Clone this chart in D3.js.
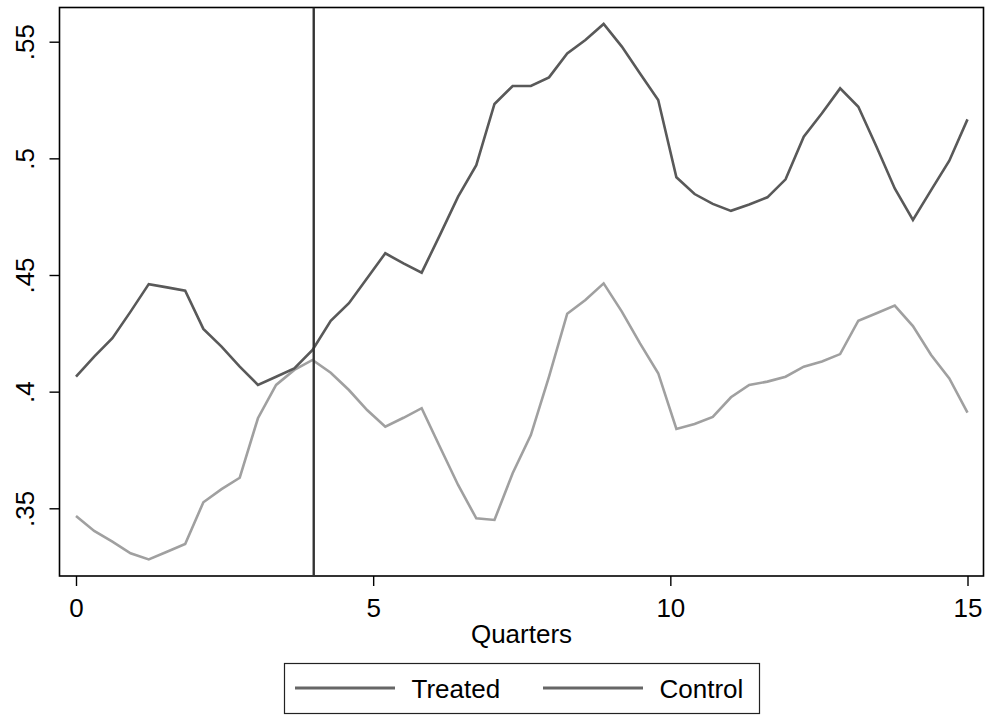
<!DOCTYPE html>
<html>
<head>
<meta charset="utf-8">
<script src="https://cdn.jsdelivr.net/npm/d3@7"></script>
<style>
  html, body { margin: 0; padding: 0; background: #fff; }
  svg { display: block; }
  text { font-family: "Liberation Sans", Arial, sans-serif; fill: #000; }
</style>
</head>
<body>
<svg id="chart" width="987" height="715"></svg>
<script>
// ---- data ----
const quarters = [0, 0.306, 0.612, 0.918, 1.224, 1.531, 1.837, 2.143, 2.449, 2.755,
  3.061, 3.367, 3.673, 3.980, 4.286, 4.592, 4.898, 5.204, 5.510, 5.816,
  6.122, 6.429, 6.735, 7.041, 7.347, 7.653, 7.959, 8.265, 8.571, 8.878,
  9.184, 9.490, 9.796, 10.102, 10.408, 10.714, 11.020, 11.327, 11.633, 11.939,
  12.245, 12.551, 12.857, 13.163, 13.469, 13.776, 14.082, 14.388, 14.694, 15];
const treated = [0.4064, 0.4150, 0.4229, 0.4343, 0.4461, 0.4447, 0.4433, 0.4269, 0.4193, 0.4107,
  0.4029, 0.4064, 0.4100, 0.4179, 0.4304, 0.4379, 0.4486, 0.4593, 0.4550, 0.4510,
  0.4671, 0.4836, 0.4971, 0.5233, 0.5310, 0.5310, 0.5347, 0.5450, 0.5507, 0.5576,
  0.5479, 0.5364, 0.5250, 0.4919, 0.4847, 0.4805, 0.4775, 0.4802, 0.4833, 0.4910,
  0.5093, 0.5193, 0.5300, 0.5221, 0.5050, 0.4871, 0.4736, 0.4864, 0.4990, 0.5167];
const control = [0.3467, 0.3403, 0.3357, 0.3307, 0.3281, 0.3314, 0.3347, 0.3526, 0.3582, 0.3631,
  0.3886, 0.4029, 0.4093, 0.4136, 0.4081, 0.4007, 0.3921, 0.3850, 0.3888, 0.3929,
  0.3764, 0.3600, 0.3457, 0.3450, 0.3650, 0.3814, 0.4064, 0.4334, 0.4393, 0.4464,
  0.4343, 0.4207, 0.4079, 0.3840, 0.3861, 0.3892, 0.3976, 0.4029, 0.4043, 0.4064,
  0.4107, 0.4129, 0.4161, 0.4304, 0.4336, 0.4369, 0.4281, 0.4157, 0.4057, 0.3910];
const xTicks = [0, 5, 10, 15];
const yTicks = [0.35, 0.4, 0.45, 0.5, 0.55];
const yTickLabels = [".35", ".4", ".45", ".5", ".55"];
const eventQuarter = 4;
const seriesNames = ["Treated", "Control"];
const xTitle = "Quarters";

// ---- layout ----
const svg = d3.select("#chart");
const frame = { left: 59.5, right: 983.5, top: 7.5, bottom: 576 };
const x = d3.scaleLinear().domain([0, 15]).range([76, 967.5]);
const y = d3.scaleLinear().domain([0.35, 0.55]).range([508.3, 41.7]);
const FS = 26;

// frame
svg.append("rect")
  .attr("x", frame.left).attr("y", frame.top)
  .attr("width", frame.right - frame.left).attr("height", frame.bottom - frame.top)
  .attr("fill", "none").attr("stroke", "#000").attr("stroke-width", 1.6);

// x axis
const xAxis = d3.axisBottom(x).tickValues(xTicks).tickSize(10).tickPadding(5)
  .tickFormat(d3.format("d"));
const gx = svg.append("g").attr("transform", `translate(0,${frame.bottom})`).call(xAxis);
gx.select(".domain").remove();
gx.selectAll(".tick line").attr("stroke", "#000").attr("stroke-width", 1.4);
gx.selectAll(".tick text").attr("font-size", FS).attr("dy", null).attr("y", 40.5)
  .style("font-family", "'Liberation Sans', Arial, sans-serif").attr("fill", "#000");

// y axis
const yAxis = d3.axisLeft(y).tickValues(yTicks).tickSize(10)
  .tickFormat((d, i) => yTickLabels[i]);
const gy = svg.append("g").attr("transform", `translate(${frame.left},0)`).call(yAxis);
gy.select(".domain").remove();
gy.selectAll(".tick line").attr("stroke", "#000").attr("stroke-width", 1.4);
gy.selectAll(".tick text")
  .attr("x", null).attr("dy", null)
  .attr("text-anchor", "middle")
  .attr("transform", "translate(-26,0) rotate(-90)")
  .attr("font-size", FS)
  .style("font-family", "'Liberation Sans', Arial, sans-serif").attr("fill", "#000");

// x title
svg.append("text").attr("x", (frame.left + frame.right) / 2).attr("y", 643)
  .attr("text-anchor", "middle").attr("font-size", FS).text(xTitle);

// lines
const clipId = "plotclip";
svg.append("clipPath").attr("id", clipId).append("rect")
  .attr("x", frame.left).attr("y", frame.top)
  .attr("width", frame.right - frame.left).attr("height", frame.bottom - frame.top);

const line = d3.line().x(d => x(d[0])).y(d => y(d[1]));
const plot = svg.append("g").attr("clip-path", `url(#${clipId})`);

plot.append("path").datum(d3.zip(quarters, control))
  .attr("d", line).attr("fill", "none").attr("stroke", "#a0a0a0")
  .attr("stroke-width", 2.6).attr("stroke-linejoin", "miter");
plot.append("path").datum(d3.zip(quarters, treated))
  .attr("d", line).attr("fill", "none").attr("stroke", "#595959")
  .attr("stroke-width", 2.6).attr("stroke-linejoin", "miter");

// event line
plot.append("line")
  .attr("x1", x(eventQuarter)).attr("x2", x(eventQuarter))
  .attr("y1", frame.top).attr("y2", frame.bottom)
  .attr("stroke", "#333").attr("stroke-width", 2.4);

// legend
const lg = svg.append("g");
lg.append("rect").attr("x", 284.5).attr("y", 663.5).attr("width", 475).attr("height", 50)
  .attr("fill", "#fff").attr("stroke", "#222").attr("stroke-width", 1.2);
const legendItems = [
  { name: seriesNames[0], x1: 295, x2: 395, tx: 411.5 },
  { name: seriesNames[1], x1: 543, x2: 643, tx: 659.5 }
];
legendItems.forEach(it => {
  lg.append("line").attr("x1", it.x1).attr("x2", it.x2).attr("y1", 688).attr("y2", 688)
    .attr("stroke", "#666").attr("stroke-width", 3);
  lg.append("text").attr("x", it.tx).attr("y", 697.5).attr("font-size", FS).text(it.name);
});
</script>
</body>
</html>
